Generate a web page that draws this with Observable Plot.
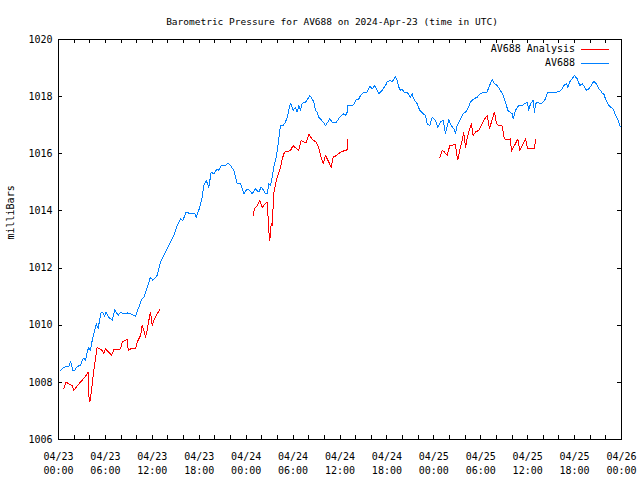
<!DOCTYPE html>
<html><head><meta charset="utf-8">
<script src="https://cdn.jsdelivr.net/npm/d3@7"></script>
<script src="https://cdn.jsdelivr.net/npm/@observablehq/plot@0.6"></script>
<style>
body{margin:0;background:#fff}
#wrap{position:relative;width:640px;height:480px}
#wrap svg{display:block}
#legend{position:absolute;left:0;top:0;pointer-events:none}
</style>
</head><body><div id="wrap"></div>
<script>
const title = "Barometric Pressure for AV688 on 2024-Apr-23 (time in UTC)";
const yLabel = "milliBars";
const seriesNames = ["AV688 Analysis", "AV688"];
const seriesColors = ["#ff0000", "#0080ff"];
const startUTC = Date.UTC(2024, 3, 23);
const spanHours = 72;
const yTicks = [1006, 1008, 1010, 1012, 1014, 1016, 1018, 1020];
const majorTickHours = [0, 6, 12, 18, 24, 30, 36, 42, 48, 54, 60, 66, 72];
const minorTickHours = d3.range(0, 73, 2);

// AV688 observed: [hours since 04/23 00:00 UTC, mbar]
const av688 = [[0.26,1008.42],[0.68,1008.53],[1.32,1008.56],[1.53,1008.74],[1.83,1008.42],[2.08,1008.42],[2.39,1008.56],[2.81,1008.59],[3.03,1008.77],[3.24,1008.85],[3.45,1008.77],[3.67,1009.06],[3.87,1009.23],[4.09,1009.12],[4.31,1009.47],[4.64,1009.82],[4.82,1010.05],[5.08,1009.87],[5.24,1010.17],[5.46,1010.46],[5.66,1010.46],[5.88,1010.32],[6.10,1010.46],[6.43,1010.28],[6.87,1010.17],[7.20,1010.54],[7.63,1010.34],[7.93,1010.46],[8.35,1010.40],[8.79,1010.43],[9.21,1010.40],[9.85,1010.31],[10.19,1010.57],[10.61,1010.89],[10.91,1010.98],[11.34,1011.33],[11.76,1011.68],[12.06,1011.57],[12.62,1011.74],[13.04,1012.21],[13.68,1012.56],[14.32,1012.91],[14.74,1013.14],[15.18,1013.49],[15.60,1013.72],[15.90,1013.67],[16.33,1013.96],[16.88,1013.90],[17.43,1013.90],[17.61,1013.78],[17.94,1014.02],[18.38,1014.48],[18.58,1014.89],[18.89,1015.07],[19.22,1014.83],[19.53,1015.36],[19.86,1015.30],[20.29,1015.47],[20.50,1015.42],[20.84,1015.59],[21.36,1015.59],[21.70,1015.67],[22.00,1015.59],[22.42,1015.42],[22.85,1014.95],[23.27,1014.97],[23.70,1014.60],[24.13,1014.77],[24.46,1014.72],[24.77,1014.60],[25.19,1014.77],[25.61,1014.66],[25.92,1014.83],[26.25,1014.72],[26.47,1014.60],[26.69,1014.60],[26.89,1014.95],[27.11,1014.89],[27.33,1015.18],[27.53,1015.53],[27.84,1015.88],[28.04,1016.23],[28.39,1016.99],[28.73,1016.99],[29.03,1017.11],[29.25,1017.28],[29.45,1017.52],[29.67,1017.77],[30.01,1017.52],[30.31,1017.63],[30.52,1017.46],[30.73,1017.69],[30.95,1017.52],[31.16,1017.77],[31.59,1017.81],[31.88,1017.92],[32.14,1018.04],[32.44,1017.92],[32.65,1017.81],[32.86,1017.52],[33.08,1017.46],[33.29,1017.28],[33.50,1017.22],[33.85,1017.11],[34.14,1016.99],[34.44,1017.11],[34.69,1017.22],[35.00,1017.11],[35.55,1017.11],[35.97,1017.28],[36.41,1017.40],[36.70,1017.34],[36.92,1017.46],[36.99,1017.69],[37.56,1017.69],[37.85,1017.75],[37.98,1017.87],[38.40,1017.92],[38.62,1018.04],[38.96,1018.14],[39.48,1018.16],[39.81,1018.37],[40.12,1018.27],[40.41,1018.39],[40.75,1018.22],[40.96,1018.10],[41.39,1018.22],[41.82,1018.39],[42.03,1018.51],[42.37,1018.57],[42.67,1018.51],[43.09,1018.71],[43.31,1018.57],[43.52,1018.33],[43.73,1018.22],[43.95,1018.27],[44.16,1018.16],[44.59,1018.16],[45.01,1017.98],[45.23,1018.10],[45.43,1017.92],[45.87,1017.75],[46.20,1017.52],[46.64,1017.40],[46.93,1017.34],[47.15,1017.05],[47.48,1016.99],[47.79,1017.28],[48.21,1017.17],[48.50,1016.93],[48.85,1017.11],[49.19,1017.17],[49.49,1016.72],[49.91,1017.19],[50.22,1016.99],[50.55,1016.88],[50.77,1016.70],[50.98,1016.99],[51.32,1017.17],[51.75,1017.40],[52.05,1017.46],[52.34,1017.57],[52.69,1017.81],[53.11,1017.92],[53.54,1017.98],[53.96,1018.10],[54.39,1018.16],[54.82,1018.16],[55.03,1018.33],[55.46,1018.59],[55.75,1018.45],[56.10,1018.39],[56.52,1018.22],[56.87,1018.04],[57.16,1017.81],[57.46,1017.52],[57.71,1017.46],[58.02,1017.40],[58.15,1017.22],[58.44,1017.52],[58.86,1017.69],[59.30,1017.69],[59.59,1017.75],[59.94,1017.81],[60.14,1017.52],[60.36,1017.75],[60.70,1017.87],[60.87,1017.46],[61.00,1017.75],[61.29,1017.81],[61.64,1017.75],[61.98,1017.81],[62.28,1017.92],[62.57,1018.16],[63.13,1018.16],[63.77,1018.16],[64.10,1018.18],[64.41,1018.27],[64.62,1018.39],[64.96,1018.45],[65.13,1018.33],[65.38,1018.51],[65.69,1018.63],[65.98,1018.74],[66.33,1018.63],[66.66,1018.39],[66.97,1018.45],[67.17,1018.39],[67.52,1018.22],[67.81,1018.27],[68.12,1018.39],[68.45,1018.54],[68.80,1018.45],[69.09,1018.27],[69.31,1018.22],[69.53,1018.12],[69.73,1018.10],[69.95,1017.92],[70.24,1017.75],[70.59,1017.63],[70.93,1017.57],[71.23,1017.34],[71.52,1017.22],[71.78,1016.99],[71.96,1016.93]];

// AV688 Analysis, three runs: [hours, mbar]
const analysisRun1 = [[0.68,1007.77],[0.98,1008.01],[1.32,1007.95],[1.75,1007.89],[1.96,1007.72],[2.26,1007.83],[2.81,1008.01],[3.36,1008.18],[3.80,1008.36],[3.87,1007.54],[4.00,1007.31],[4.22,1007.72],[4.51,1008.42],[4.73,1008.82],[4.95,1009.23],[5.24,1009.17],[5.59,1009.12],[5.79,1009.00],[6.01,1009.17],[6.43,1009.06],[6.78,1008.94],[7.07,1009.14],[7.51,1009.15],[7.93,1009.17],[8.15,1009.41],[8.57,1009.47],[8.79,1009.52],[8.91,1009.12],[9.21,1009.17],[9.85,1009.17],[10.06,1009.41],[10.49,1009.64],[10.70,1009.99],[10.91,1009.82],[11.13,1009.58],[11.34,1009.82],[11.47,1010.05],[11.76,1010.46],[11.98,1009.99],[12.11,1010.11],[12.40,1010.28],[12.75,1010.46],[12.92,1010.54]];
const analysisRun2 = [[24.90,1013.84],[25.06,1014.07],[25.41,1014.19],[25.74,1014.37],[26.05,1014.13],[26.47,1014.25],[26.69,1014.31],[26.76,1014.01],[26.89,1013.31],[27.02,1012.97],[27.20,1013.55],[27.33,1013.49],[27.53,1014.60],[27.75,1014.95],[27.97,1015.18],[28.30,1015.42],[28.61,1015.82],[28.90,1016.06],[29.32,1016.08],[29.67,1016.12],[30.01,1016.29],[30.31,1016.21],[30.73,1016.12],[31.04,1016.47],[31.37,1016.41],[31.71,1016.41],[32.01,1016.68],[32.31,1016.56],[32.57,1016.47],[32.99,1016.41],[33.29,1016.18],[33.59,1015.88],[33.85,1015.65],[34.14,1015.94],[34.57,1015.71],[34.87,1015.53],[35.13,1015.88],[35.55,1015.94],[36.06,1016.06],[36.70,1016.12],[36.92,1016.14],[36.99,1016.49]];
const analysisRun3 = [[48.76,1015.86],[49.07,1016.12],[49.36,1016.06],[49.71,1015.94],[50.04,1016.29],[50.47,1016.31],[50.77,1016.31],[50.98,1015.88],[51.06,1015.79],[51.32,1016.12],[51.62,1016.47],[51.82,1016.76],[52.05,1016.23],[52.34,1016.64],[52.60,1016.88],[52.81,1017.05],[53.03,1016.64],[53.32,1016.76],[53.75,1016.82],[54.18,1017.05],[54.51,1017.22],[54.82,1017.34],[55.12,1016.88],[55.37,1017.11],[55.59,1017.31],[55.75,1017.46],[56.01,1017.05],[56.30,1016.99],[56.74,1016.97],[57.03,1016.52],[57.46,1016.50],[57.80,1016.52],[57.93,1016.09],[58.31,1016.29],[58.74,1016.52],[58.99,1016.12],[59.30,1016.29],[59.72,1016.52],[60.01,1016.17],[60.58,1016.17],[60.87,1016.17],[61.00,1016.49]];

const toDate = h => new Date(startUTC + h * 3600e3);
const rows = (arr, run) => arr.map(([h, v]) => ({t: toDate(h), v, run}));
const analysis = [...rows(analysisRun1, 1), ...rows(analysisRun2, 2), ...rows(analysisRun3, 3)];
const observed = rows(av688, 0);
const majorDates = majorTickHours.map(toDate);
const minorDates = minorTickHours.map(toDate);
const fmt = d3.utcFormat("%m/%d\n%H:%M");

const chart = Plot.plot({
  width: 640, height: 480,
  marginLeft: 58, marginRight: 19, marginTop: 39, marginBottom: 41,
  style: {fontFamily: "DejaVu Sans Mono", fontSize: "10px", background: "#fff", color: "#000"},
  x: {type: "utc", domain: [toDate(0), toDate(spanHours)], label: null},
  y: {domain: [1006, 1020], label: null},
  marks: [
    Plot.line(analysis, {x: "t", y: "v", z: "run", stroke: seriesColors[0], strokeWidth: 1, shapeRendering: "crispEdges"}),
    Plot.line(observed, {x: "t", y: "v", stroke: seriesColors[1], strokeWidth: 1, shapeRendering: "crispEdges"}),
    Plot.frame({stroke: "#000", shapeRendering: "crispEdges"}),
    Plot.ruleX(minorDates, {x: d => d, insetTop: 396, stroke: "#000", shapeRendering: "crispEdges"}),
    Plot.ruleX(minorDates, {x: d => d, insetBottom: 396, stroke: "#000", shapeRendering: "crispEdges"}),
    Plot.ruleY(yTicks, {y: d => d, insetRight: 559, stroke: "#000", shapeRendering: "crispEdges"}),
    Plot.ruleY(yTicks, {y: d => d, insetLeft: 559, stroke: "#000", shapeRendering: "crispEdges"}),
    Plot.axisX(majorDates, {tickSize: 0, tickPadding: 11, tickFormat: fmt, lineHeight: 1.4, label: null, fontSize: 10}),
    Plot.axisY(yTicks, {tickSize: 0, tickPadding: 6, tickFormat: d => String(d), label: null, fontSize: 10}),
    Plot.text([yLabel], {frameAnchor: "left", rotate: -90, dx: -48, fontSize: 10}),
    Plot.text([title], {frameAnchor: "top", dy: -21, dx: -8, fontSize: 9.5})
  ]
});
const wrap = document.getElementById("wrap");
wrap.appendChild(chart);

// legend (inside the plot, top-right)
const lg = d3.select(wrap).append("svg").attr("id", "legend").attr("width", 640).attr("height", 80);
seriesNames.forEach((name, i) => {
  const y = 49 + i * 14;
  lg.append("text").attr("x", 575).attr("y", y).attr("dy", "0.32em")
    .attr("text-anchor", "end").attr("font-family", "DejaVu Sans Mono").attr("font-size", 10)
    .attr("fill", "#000").text(name);
  lg.append("rect").attr("x", 581).attr("y", y).attr("width", 28).attr("height", 1)
    .attr("fill", seriesColors[i]).attr("shape-rendering", "crispEdges");
});
</script>
</body></html>
